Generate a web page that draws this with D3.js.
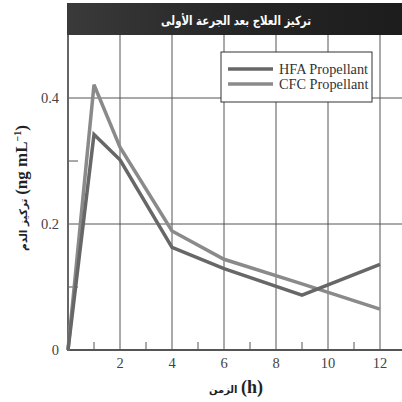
<!DOCTYPE html>
<html><head><meta charset="utf-8">
<script src="https://cdn.jsdelivr.net/npm/d3@7"></script>
<style>body{margin:0;background:#fff}svg{display:block}</style>
</head><body>
<svg id="c" width="402" height="402"></svg>
<script>
const hours = [0, 1, 2, 4, 6, 9, 12];
const hfa = [0, 0.342, 0.302, 0.163, 0.129, 0.087, 0.136];
const cfc = [0, 0.421, 0.322, 0.189, 0.144, 0.105, 0.065];
const seriesNames = ["HFA Propellant", "CFC Propellant"];
const xTicks = [2, 4, 6, 8, 10, 12];
const xMinor = [1, 3, 5, 7, 9, 11];
const yTicks = [0, 0.2, 0.4];
const yTickLabels = ["0", "0.2", "0.4"];
const yMinor = [0.1, 0.3];
const title = "تركيز العلاج بعد الجرعة الأولى";
const xTitleAr = "الزمن";
const yTitleAr = "تركيز الدم";

const svg = d3.select("#c");
const x = d3.scaleLinear().domain([0, 12]).range([68, 380]);
const y = d3.scaleLinear().domain([0, 0.5]).range([350, 35]);
const serif = "'Liberation Serif', 'DejaVu Serif', serif";
const gridC = "#555";

// title bar
const defs = svg.append("defs");
const grad = defs.append("linearGradient").attr("id", "tg").attr("x1", 0).attr("x2", 1);
grad.append("stop").attr("offset", 0).attr("stop-color", "#3a3a3a");
grad.append("stop").attr("offset", 0.5).attr("stop-color", "#262626");
grad.append("stop").attr("offset", 1).attr("stop-color", "#1c1c1c");
svg.append("rect").attr("x", 67).attr("y", 3).attr("width", 335).attr("height", 32).attr("fill", "url(#tg)");
svg.append("text").attr("x", 236).attr("y", 25).attr("text-anchor", "middle")
  .attr("fill", "#fff").attr("font-family", "'DejaVu Sans', sans-serif").attr("font-weight", "bold")
  .attr("font-size", 12.5).attr("textLength", 150).attr("lengthAdjust", "spacingAndGlyphs").text(title);

// vertical grid
svg.append("g").selectAll("line").data(xTicks).join("line")
  .attr("x1", d => x(d)).attr("x2", d => x(d)).attr("y1", y(0.5)).attr("y2", y(0))
  .attr("stroke", gridC).attr("stroke-width", 1);
// horizontal grid
svg.append("g").selectAll("line").data(yTicks.filter(d => d > 0)).join("line")
  .attr("x1", x(0)).attr("x2", 402).attr("y1", d => y(d)).attr("y2", d => y(d))
  .attr("stroke", gridC).attr("stroke-width", 1);
// minor ticks
svg.append("g").selectAll("line").data(xMinor).join("line")
  .attr("x1", d => x(d)).attr("x2", d => x(d)).attr("y1", y(0)).attr("y2", y(0) - 8)
  .attr("stroke", gridC).attr("stroke-width", 1);
svg.append("g").selectAll("line").data(yMinor).join("line")
  .attr("x1", x(0)).attr("x2", x(0) + 10).attr("y1", d => y(d)).attr("y2", d => y(d))
  .attr("stroke", gridC).attr("stroke-width", 1);

// axes lines
svg.append("line").attr("x1", x(0)).attr("x2", 402).attr("y1", y(0)).attr("y2", y(0))
  .attr("stroke", "#555").attr("stroke-width", 2);
svg.append("line").attr("x1", x(0)).attr("x2", x(0)).attr("y1", y(0.5)).attr("y2", y(0) + 1)
  .attr("stroke", "#666").attr("stroke-width", 2);

// tick labels
svg.append("g").selectAll("text").data(xTicks).join("text")
  .attr("x", d => x(d)).attr("y", 368).attr("text-anchor", "middle")
  .attr("font-family", serif).attr("font-size", 14.5).attr("fill", "#444").text(d => d);
svg.append("g").selectAll("text").data(yTicks).join("text")
  .attr("x", 59).attr("y", d => y(d) + 5).attr("text-anchor", "end")
  .attr("font-family", serif).attr("font-size", 14.5).attr("fill", "#444")
  .text((d, i) => yTickLabels[i]);

// lines
const line = d3.line().x((d, i) => x(hours[i])).y(d => y(d));
const colors = ["#676767", "#8a8a8a"];
svg.append("path").datum(cfc).attr("d", line).attr("fill", "none")
  .attr("stroke", colors[1]).attr("stroke-width", 3.5).attr("stroke-linejoin", "miter");
svg.append("path").datum(hfa).attr("d", line).attr("fill", "none")
  .attr("stroke", colors[0]).attr("stroke-width", 3.5).attr("stroke-linejoin", "miter");

// legend
const lg = svg.append("g");
lg.append("rect").attr("x", 221).attr("y", 52).attr("width", 151).attr("height", 50)
  .attr("fill", "#fff").attr("stroke", "#333").attr("stroke-width", 1);
seriesNames.forEach((n, i) => {
  const yy = 69 + i * 15;
  lg.append("line").attr("x1", 228).attr("x2", 273).attr("y1", yy).attr("y2", yy)
    .attr("stroke", colors[i]).attr("stroke-width", 3.5);
  lg.append("text").attr("x", 279).attr("y", yy + 4.5).attr("font-family", serif)
    .attr("font-size", 14.3).attr("fill", "#333").text(n);
});

// x title
const xt = svg.append("text").attr("x", 236).attr("y", 393).attr("text-anchor", "middle")
  .attr("direction", "ltr").attr("fill", "#222");
xt.append("tspan").attr("font-family", "'DejaVu Sans', sans-serif").attr("font-weight", "bold")
  .attr("font-size", 10).text(xTitleAr + " ");
xt.append("tspan").attr("font-family", serif).attr("font-weight", "bold").attr("font-size", 18).text("(h)");

// y title
const yt = svg.append("text").attr("transform", "translate(27,188) rotate(-90)")
  .attr("text-anchor", "middle").attr("direction", "ltr").attr("fill", "#222");
yt.append("tspan").attr("font-family", "'DejaVu Sans', sans-serif").attr("font-weight", "bold")
  .attr("font-size", 10.5).text(yTitleAr + " ");
yt.append("tspan").attr("font-family", serif).attr("font-weight", "bold").attr("font-size", 17).text("(ng mL");
yt.append("tspan").attr("font-family", serif).attr("font-weight", "bold").attr("font-size", 10)
  .attr("dy", -6).text("−1");
yt.append("tspan").attr("font-family", serif).attr("font-weight", "bold").attr("font-size", 17)
  .attr("dy", 6).text(")");
</script>
</body></html>
